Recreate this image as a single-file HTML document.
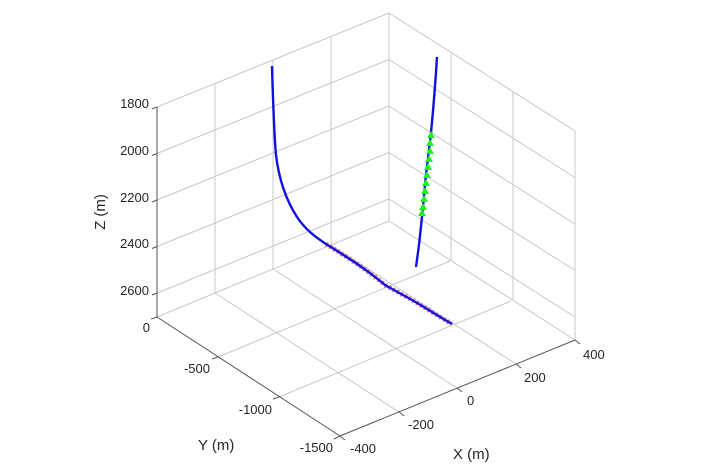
<!DOCTYPE html>
<html><head><meta charset="utf-8"><style>
html,body{margin:0;padding:0;background:#fff;}
svg{display:block;font-family:"Liberation Sans",Arial,sans-serif;}
</style></head><body>
<svg width="722" height="468" viewBox="0 0 722 468" xmlns="http://www.w3.org/2000/svg">
<g stroke="#c8c8c8" stroke-width="1" fill="none">
<line x1="157" y1="107" x2="389" y2="13"/>
<line x1="157" y1="153.5" x2="389" y2="59.5"/>
<line x1="157" y1="200" x2="389" y2="106"/>
<line x1="157" y1="246.5" x2="389" y2="152.5"/>
<line x1="157" y1="293" x2="389" y2="199"/>
<line x1="215" y1="84" x2="215" y2="294"/>
<line x1="273" y1="60" x2="273" y2="270"/>
<line x1="331" y1="37" x2="331" y2="247"/>
<line x1="389" y1="13" x2="389" y2="221"/>
<line x1="389" y1="13" x2="575" y2="131"/>
<line x1="389" y1="59.5" x2="575" y2="177.5"/>
<line x1="389" y1="106" x2="575" y2="224"/>
<line x1="389" y1="152.5" x2="575" y2="270.5"/>
<line x1="389" y1="199" x2="575" y2="317"/>
<line x1="451" y1="52" x2="451" y2="261"/>
<line x1="513" y1="92" x2="513" y2="300"/>
<line x1="575" y1="131" x2="575" y2="340"/>
<line x1="157" y1="317" x2="389" y2="221"/>
<line x1="218" y1="357" x2="450" y2="261"/>
<line x1="279" y1="397" x2="511" y2="301"/>
<line x1="215" y1="293" x2="399" y2="412"/>
<line x1="273" y1="269" x2="457" y2="388"/>
<line x1="331" y1="245" x2="516" y2="364"/>
<line x1="389" y1="221" x2="575" y2="340"/>
</g>
<g stroke="#555" stroke-width="1" fill="none">
<line x1="157" y1="317" x2="340" y2="436"/>
<line x1="340" y1="436" x2="575" y2="340"/>
<line x1="157" y1="107" x2="157" y2="317"/>
<line x1="157" y1="107" x2="152" y2="109"/><line x1="157" y1="153.5" x2="152" y2="155.5"/>
<line x1="157" y1="200" x2="152" y2="202"/><line x1="157" y1="246.5" x2="152" y2="248.5"/>
<line x1="157" y1="293" x2="152" y2="295"/>
<line x1="340" y1="436" x2="334" y2="439"/><line x1="279" y1="397" x2="273" y2="399"/>
<line x1="218" y1="357" x2="212" y2="359"/><line x1="157" y1="317" x2="151" y2="319"/>
<line x1="340" y1="436" x2="345" y2="440"/><line x1="399" y1="412" x2="404" y2="416"/>
<line x1="457" y1="388" x2="462" y2="392"/><line x1="516" y1="364" x2="521" y2="368"/>
<line x1="575" y1="340" x2="580" y2="344"/>
</g>
<g font-size="13" fill="#262626">
<g text-anchor="end">
<text x="149" y="108">1800</text><text x="149" y="155">2000</text>
<text x="149" y="202">2200</text><text x="149" y="248">2400</text>
<text x="149" y="295">2600</text>
<text x="150" y="332">0</text><text x="210" y="373">-500</text>
<text x="272" y="414">-1000</text><text x="333" y="452">-1500</text>
</g>
<text x="350" y="453">-400</text><text x="408" y="429">-200</text>
<text x="467" y="405">0</text><text x="524" y="382">200</text>
<text x="583" y="359">400</text>
<text x="198" y="450" font-size="15">Y (m)</text>
<text x="453" y="459" font-size="15">X (m)</text>
<text transform="translate(105,212) rotate(-90)" text-anchor="middle" font-size="15">Z (m)</text>
</g>
<!-- red markers along left well -->
<path d="M326,244 C345,256 365,268 385,285 L394,290 L403,295 C420,304 436,315 452,324" stroke="#e05a6a" stroke-width="5" stroke-dasharray="2 2.5" fill="none" opacity="0.75"/>
<!-- left well -->
<path d="M272,66 C273,100 274,135 276,155 C279,180 286,200 297,217 C305,229 314,236 326,244 C345,256 365,268 385,285 L394,290 L403,295 C420,304 436,315 452,324" stroke="#1010e0" stroke-width="2.4" fill="none"/>
<!-- right well -->
<path d="M437,57 C435,90 433,112 431,133 L426,175 L422,217 L419,245 L416,267" stroke="#1010e0" stroke-width="2.4" fill="none"/>
<g fill="#22ee22">
<polygon points="431,131 427,138 435,138"/>
<polygon points="430,139 426,146 434,146"/>
<polygon points="430,147 426,154 434,154"/>
<polygon points="429,155 425,162 433,162"/>
<polygon points="428,163 424,170 432,170"/>
<polygon points="427,171 423,178 431,178"/>
<polygon points="426,179 422,186 430,186"/>
<polygon points="425,187 421,194 429,194"/>
<polygon points="424,195 420,202 428,202"/>
<polygon points="423,203 419,210 427,210"/>
<polygon points="422,209 418,216 426,216"/>
</g>
</svg>
</body></html>
